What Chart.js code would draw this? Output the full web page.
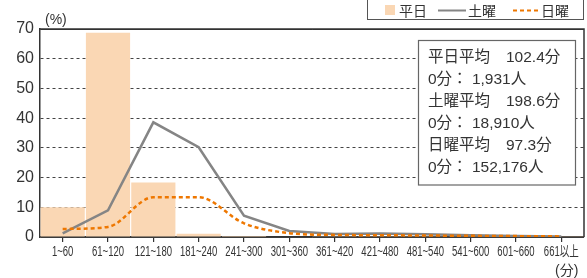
<!DOCTYPE html>
<html>
<head>
<meta charset="utf-8">
<script src="https://cdn.jsdelivr.net/npm/chart.js@4/dist/chart.umd.min.js"></script>
<style>
html,body{margin:0;padding:0;background:#fff}
#wrap{width:587px;height:278px}
</style>
</head>
<body>
<div id="wrap"><canvas id="chart" width="587" height="278"></canvas></div>
<script>
var categories=["1~60","61~120","121~180","181~240","241~300","301~360","361~420","421~480","481~540","541~600","601~660","661以上"];
var weekday=[10.0,68.7,18.3,1.1,0.3,0.2,0.1,0.1,0.1,0.1,0.1,0.1];
var saturday=[1.2,9.0,38.6,30.2,7.2,2.0,1.0,1.2,0.9,0.6,0.3,0.2];
var sunday=[2.7,3.4,13.4,13.4,4.6,1.3,0.7,0.6,0.5,0.4,0.3,0.2];
var seriesNames=["平日","土曜","日曜"];
var noteLines=[["平日平均","102.4分"],["0分： 1,931人",""],["土曜平均","198.6分"],["0分： 18,910人",""],["日曜平均","97.3分"],["0分： 152,176人",""]];

var txtColor="#333";
var cjk="'Noto Sans CJK JP'";
var latin="'Liberation Sans', 'Noto Sans CJK JP', sans-serif";

var decor={
	id:'decor',
	beforeDatasetsDraw:function(chart) {
		var a=chart.chartArea, ctx=chart.ctx;
		ctx.save();
		ctx.strokeStyle="#333";
		ctx.lineWidth=1.5;
		ctx.beginPath();
		ctx.moveTo(a.left, a.top);
		ctx.lineTo(a.right, a.top);
		ctx.lineTo(a.right, a.bottom);
		ctx.stroke();
		ctx.restore();
	},
	afterDraw:function(chart) {
		var ctx=chart.ctx, ds=chart.data.datasets;
		var xs=chart.scales.x;
		ctx.save();
		// condensed category labels, placed by the x scale
		ctx.fillStyle=txtColor;
		ctx.font="14px "+latin;
		ctx.textAlign="center";
		ctx.textBaseline="middle";
		for (var k=0; k<chart.data.labels.length; k++) {
			var px=xs.getPixelForTick(k);
			ctx.save();
			ctx.translate(px, xs.top+15);
			ctx.scale(0.68, 1);
			ctx.fillText(chart.data.labels[k], 0, 0);
			ctx.restore();
		}

		// legend box
		ctx.textAlign="left";
		ctx.fillStyle="#fff";
		ctx.fillRect(367, -5, 216, 24);
		ctx.strokeStyle="#555";
		ctx.lineWidth=1;
		ctx.strokeRect(367.5, -5, 216, 24.5);
		ctx.font="14px "+cjk;
		ctx.fillStyle=ds[0].backgroundColor;
		ctx.fillRect(385, 5, 10, 10);
		ctx.fillStyle=txtColor;
		ctx.fillText(seriesNames[0], 399, 10.5);
		ctx.strokeStyle=ds[1].borderColor;
		ctx.lineWidth=2;
		ctx.beginPath(); ctx.moveTo(438, 10.5); ctx.lineTo(466, 10.5); ctx.stroke();
		ctx.fillText(seriesNames[1], 468, 10.5);
		ctx.strokeStyle=ds[2].borderColor;
		ctx.setLineDash([4,3]);
		ctx.beginPath(); ctx.moveTo(513, 10.5); ctx.lineTo(541, 10.5); ctx.stroke();
		ctx.setLineDash([]);
		ctx.fillText(seriesNames[2], 541, 10.5);

		// info box
		ctx.fillStyle="#fff";
		ctx.fillRect(418, 40, 157, 145);
		ctx.strokeStyle="#666";
		ctx.lineWidth=1.2;
		ctx.strokeRect(418.5, 40.5, 157, 144.5);
		ctx.fillStyle=txtColor;
		ctx.font="15.5px "+latin;
		for (var i=0; i<noteLines.length; i++) {
			var y=58+22*i;
			ctx.fillText(noteLines[i][0], 428, y);
			if (noteLines[i][1]) ctx.fillText(noteLines[i][1], 506, y);
		}

		// units
		ctx.font="14px "+latin;
		ctx.fillText("(%)", 45, 20);
		ctx.fillText("(分)", 555, 271);
		ctx.restore();
	}
};

window.onload=function() {
	var ctx=document.getElementById('chart').getContext('2d');
	new Chart(ctx, {
		type:'bar',
		data:{
			labels:categories,
			datasets:[
				{
					type:'bar',
					label:seriesNames[0],
					data:weekday,
					backgroundColor:"#FAD7B4",
					borderWidth:0,
					barPercentage:0.975,
					categoryPercentage:1,
					order:3
				},
				{
					type:'line',
					label:seriesNames[1],
					data:saturday,
					borderColor:"#858585",
					borderWidth:2.5,
					pointRadius:0,
					tension:0,
					order:2
				},
				{
					type:'line',
					label:seriesNames[2],
					data:sunday,
					borderColor:"#EE7700",
					borderWidth:2.5,
					borderDash:[4,3],
					pointRadius:0,
					cubicInterpolationMode:'monotone',
					order:1
				}
			]
		},
		options:{
			responsive:false,
			animation:false,
			layout:{padding:{top:29, right:3, left:0, bottom:0}},
			plugins:{legend:{display:false}, tooltip:{enabled:false}},
			scales:{
				x:{
					offset:true,
					afterFit:function(s) { s.height=41; },
					grid:{offset:false, drawOnChartArea:false, drawTicks:true, tickLength:5, color:"#333", lineWidth:1.2},
					border:{display:true, color:"#333", width:1.5},
					ticks:{color:"rgba(0,0,0,0)", padding:4, maxRotation:0, autoSkip:false,
						font:{family:latin, size:10}}
				},
				y:{
					min:0, max:70,
					afterFit:function(s) { s.width=40; },
					grid:{drawTicks:false, color:function(c) { return c.tick && c.tick.value==70 ? "#333" : "#444"; }, lineWidth:1},
					border:{display:true, color:"#333", width:1.5,
						dash:function(c) { return (c.tick && c.tick.value>0 && c.tick.value<70) ? [3,3] : []; }},
					ticks:{stepSize:10, color:txtColor, padding:6, font:{family:latin, size:16}}
				}
			}
		},
		plugins:[decor]
	});
}
</script>
</body>
</html>
